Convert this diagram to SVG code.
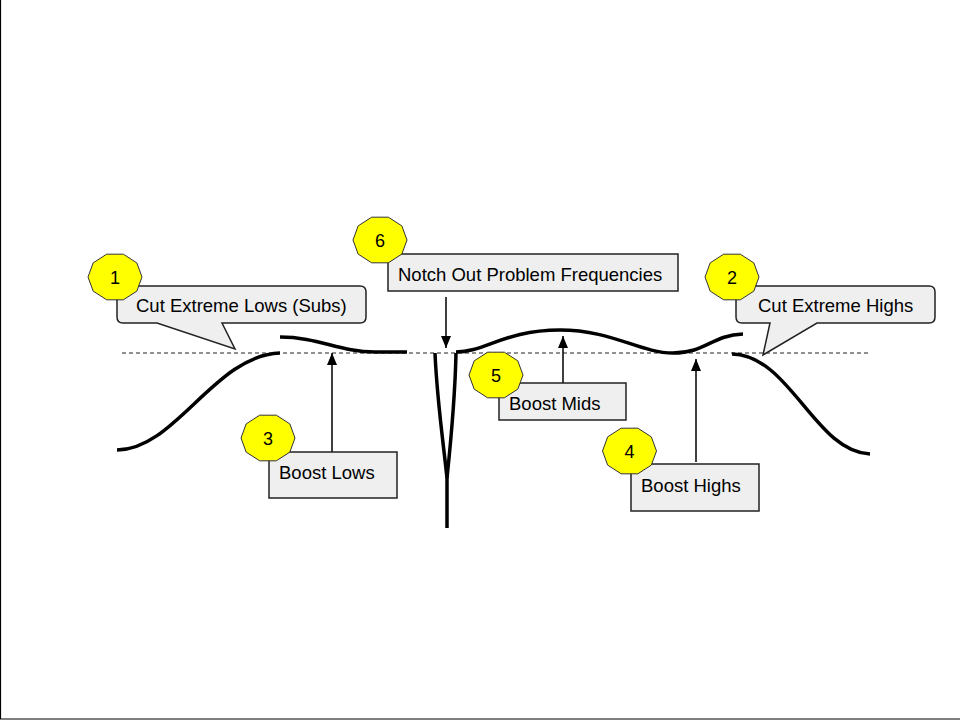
<svg xmlns="http://www.w3.org/2000/svg" xmlns:xlink="http://www.w3.org/1999/xlink" width="960" height="720" viewBox="0 0 960 720">
<style>
  .curve{fill:none;stroke:#000;stroke-width:3.5;stroke-linecap:butt;stroke-linejoin:round}
  .dash{fill:none;stroke:#222;stroke-width:1;stroke-dasharray:4 3}
  .box{fill:#efefef;stroke:#222;stroke-width:1.5}
  .badge{fill:#ffff00;stroke:#333;stroke-width:1}
  .lbl{font-family:"Liberation Sans",Arial,sans-serif;font-size:18.5px;fill:#000}
  .num{font-family:"Liberation Sans",Arial,sans-serif;font-size:18px;fill:#000;text-anchor:middle}
  .arr{fill:none;stroke:#000;stroke-width:1.5}
</style>
<defs>
  <polygon id="deca" points="27,0 21.84,14.11 8.34,22.82 -8.34,22.82 -21.84,14.11 -27,0 -21.84,-14.11 -8.34,-22.82 8.34,-22.82 21.84,-14.11"/>
  <marker id="ah2" viewBox="0 0 12 10" refX="12" refY="5" markerWidth="13" markerHeight="10" markerUnits="userSpaceOnUse" orient="auto">
    <path d="M0,0 L12,5 L0,10 Z" fill="#000"/>
  </marker>
</defs>
<rect width="960" height="720" fill="#fff"/>
<path d="M0.5,0 V719 H960" fill="none" stroke="#000" stroke-width="1.2"/>

<g id="eq-curve">
  <line class="dash" x1="122" y1="353" x2="870" y2="353"/>
  <path class="curve" d="M117,450 C175,450 215,355 280,353"/>
  <path class="curve" d="M280,337 C318,337 340,352 375,352 L407,352"/>
  <path class="curve" d="M435,353 C437,400 443,440 447,478 L447,528"/>
  <path class="curve" d="M447,478 C451,440 455,400 456,353"/>
  <path class="curve" d="M456,352 C485,352 505,330 560,330 C612,330 640,353 673,353 C706,353 712,335 743,334"/>
  <path class="curve" d="M732,354 C790,355 815,452 870,454"/>
</g>

<g id="connectors">
  <line class="arr" x1="446" y1="297" x2="446" y2="348" marker-end="url(#ah2)"/>
  <line class="arr" x1="332" y1="452" x2="332" y2="353" marker-end="url(#ah2)"/>
  <line class="arr" x1="563" y1="383" x2="563" y2="336" marker-end="url(#ah2)"/>
  <line class="arr" x1="696" y1="462" x2="696" y2="359" marker-end="url(#ah2)"/>
</g>

<g id="callout-1">
  <path class="box" d="M123,286 H360 Q366,286 366,292 V317 Q366,323 360,323 H222 L235,349 L157,323 H123 Q117,323 117,317 V292 Q117,286 123,286 Z"/>
  <text class="lbl" x="136" y="312">Cut Extreme Lows (Subs)</text>
  <use href="#deca" xlink:href="#deca" class="badge" x="115" y="277"/>
  <text class="num" x="115" y="283.5">1</text>
</g>

<g id="callout-2">
  <path class="box" d="M742,286 H929 Q935,286 935,292 V317 Q935,323 929,323 H817 L763,355 L770,323 H742 Q736,323 736,317 V292 Q736,286 742,286 Z"/>
  <text class="lbl" x="758" y="312">Cut Extreme Highs</text>
  <use href="#deca" xlink:href="#deca" class="badge" x="732" y="277"/>
  <text class="num" x="732" y="283.5">2</text>
</g>

<g id="box-3">
  <rect class="box" x="269" y="452" width="128" height="46"/>
  <text class="lbl" x="279" y="479">Boost Lows</text>
  <use href="#deca" xlink:href="#deca" class="badge" x="268" y="438"/>
  <text class="num" x="268" y="444.5">3</text>
</g>

<g id="box-4">
  <rect class="box" x="631" y="464" width="128" height="47"/>
  <text class="lbl" x="641" y="492">Boost Highs</text>
  <use href="#deca" xlink:href="#deca" class="badge" x="629.5" y="451"/>
  <text class="num" x="629.5" y="457.5">4</text>
</g>

<g id="box-5">
  <rect class="box" x="499" y="383" width="127" height="37"/>
  <text class="lbl" x="509" y="410">Boost Mids</text>
  <use href="#deca" xlink:href="#deca" class="badge" x="496" y="375"/>
  <text class="num" x="496" y="381.5">5</text>
</g>

<g id="box-6">
  <rect class="box" x="388" y="254" width="290" height="37"/>
  <text class="lbl" x="398" y="281">Notch Out Problem Frequencies</text>
  <use href="#deca" xlink:href="#deca" class="badge" x="380" y="240"/>
  <text class="num" x="380" y="246.5">6</text>
</g>
</svg>
